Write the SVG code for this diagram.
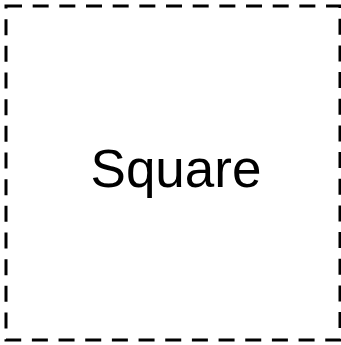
<svg xmlns="http://www.w3.org/2000/svg" width="341" height="345" viewBox="0 0 341 345">
<style>
.box{fill:#fff;stroke:#000;stroke-width:3;stroke-dasharray:16 10.67}
.lbl{font-family:"Liberation Sans",Arial,sans-serif;font-size:53px;fill:#000;text-anchor:middle}
</style>
<rect width="341" height="345" fill="#fff"/>
<g id="square">
<rect class="box" x="6" y="6" width="334" height="334"/>
<text class="lbl" x="176" y="187">Square</text>
</g>
<g id="connectors"/>
</svg>
